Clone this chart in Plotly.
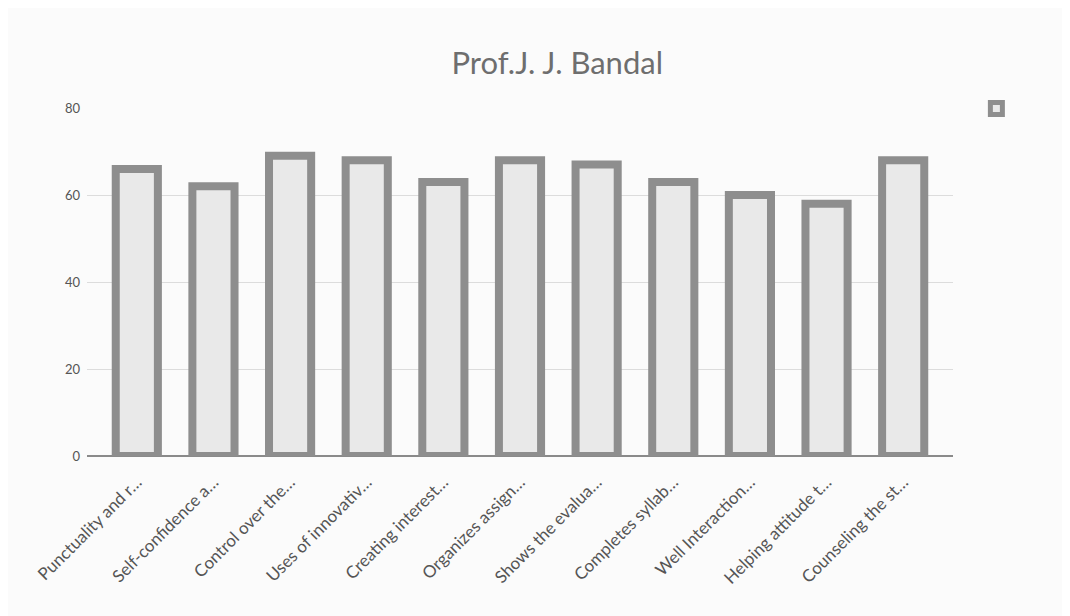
import plotly.graph_objects as go

# Values
categories = [
    "Punctuality and r…", "Self-confidence a…", "Control over the…",
    "Uses of innovativ…", "Creating interest…", "Organizes assign…",
    "Shows the evalua…", "Completes syllab…", "Well Interaction…",
    "Helping attitude t…", "Counseling the st…",
]
scores = [66, 62, 69, 68, 63, 68, 67, 63, 60, 58, 68]
y_ticks = [0, 20, 40, 60, 80]

fig = go.Figure(go.Bar(
    x=categories,
    y=scores,
    name=" ",
    width=0.55,
    marker=dict(color="#e9e9e9", line=dict(color="#8e8e8e", width=8)),
    showlegend=True,
))

fig.update_layout(
    width=1070, height=616,
    paper_bgcolor="#fbfbfb", plot_bgcolor="#fbfbfb",
    margin=dict(l=79, r=125, t=100, b=168),
    title=dict(text="Prof.J. J. Bandal", x=0.543, xref="paper", xanchor="center",
               y=0.91, yanchor="middle",
               font=dict(family="Lato", size=31, color="#6e6e6e")),
    font=dict(family="Lato", color="#555555"),
    legend=dict(x=1.027, y=1.04, xanchor="left", yanchor="top",
                bgcolor="rgba(0,0,0,0)", font=dict(size=12)),
)
fig.update_xaxes(
    range=[-0.65, 10.65], tickangle=-45, tickfont=dict(size=17, color="#555555"),
    ticklabelstandoff=12,
    showline=False, showgrid=False, ticks="",
)
fig.update_yaxes(
    range=[0, 80], tickvals=y_ticks, tickfont=dict(size=13, color="#555555"),
    ticklabelstandoff=6,
    showgrid=True, gridcolor="#dcdcdc", gridwidth=1,
    zeroline=True, zerolinecolor="#8a8a8a", zerolinewidth=2,
    ticks="", showline=False,
)

fig.write_html("out.html")
